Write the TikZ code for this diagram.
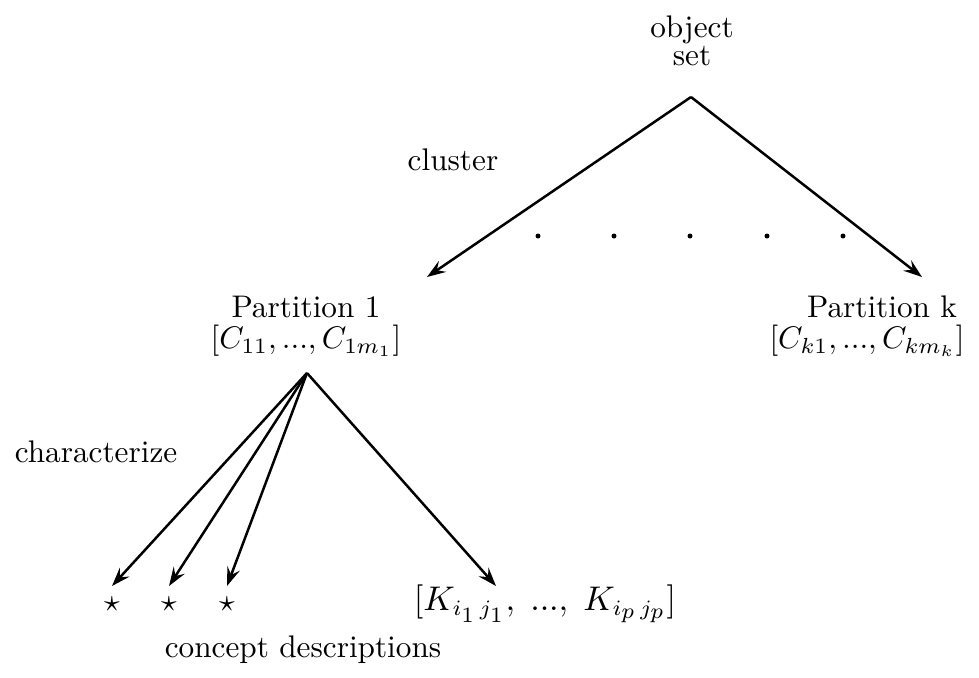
\documentclass[tikz,border=0pt]{standalone}
\usetikzlibrary{arrows.meta}
\begin{document}
\begin{tikzpicture}[x=0.32pt,y=-0.32pt,
  lbl/.style={inner sep=0pt,anchor=center,font=\fontsize{10}{12}\selectfont},
  arr/.style={line width=0.8pt,-{Stealth[length=6pt,width=4.2pt,inset=2.2pt]}},
  dotmark/.style={circle,fill=black,inner sep=0pt,minimum size=1.6pt}]
\useasboundingbox (0,0) rectangle (979,677);
% top
\node[lbl] (obj) at (692,30) {object};
\node[lbl] (set) at (692,56) {set};
\coordinate (apex1) at (691,97);
\coordinate (tipL) at (427,277);
\coordinate (tipR) at (922,277);
\draw[arr] (apex1) -- (tipL);
\draw[arr] (apex1) -- (tipR);
\node[lbl] (cluster) at (453,160) {cluster};
\foreach \x/\n in {538/a,614/b,690/c,767/d,843/e}
  \node[dotmark] (dot\n) at (\x,236) {};
% partitions
\node[lbl] (p1) at (306,307) {Partition 1};
\node[lbl] (p1c) at (306,341) {$[C_{11},...,C_{1m_1}]$};
\node[lbl] (pk) at (882,307) {Partition k};
\node[lbl] (pkc) at (867,341) {$[C_{k1},...,C_{km_k}]$};
% lower
\coordinate (apex2) at (307,373);
\coordinate (t1) at (112,586);
\coordinate (t2) at (169,586);
\coordinate (t3) at (227,586);
\coordinate (t4) at (496,586);
\draw[arr] (apex2) -- (t1);
\draw[arr] (apex2) -- (t2);
\draw[arr] (apex2) -- (t3);
\draw[arr] (apex2) -- (t4);
\node[lbl] (characterize) at (96,452) {characterize};
\node[lbl] (s1) at (112,604) {$\star$};
\node[lbl] (s2) at (169,604) {$\star$};
\node[lbl] (s3) at (227,604) {$\star$};
\node[lbl,font=\fontsize{10.5}{13}\selectfont] (kset) at (545,604) {$[K_{i_{\scriptstyle 1}\,j_{\scriptstyle 1}},\;...,\;K_{i_{\scriptstyle p}\,j_{\scriptstyle p}}]$};
\node[lbl] (concept) at (303,650) {concept descriptions};
\end{tikzpicture}
\end{document}
